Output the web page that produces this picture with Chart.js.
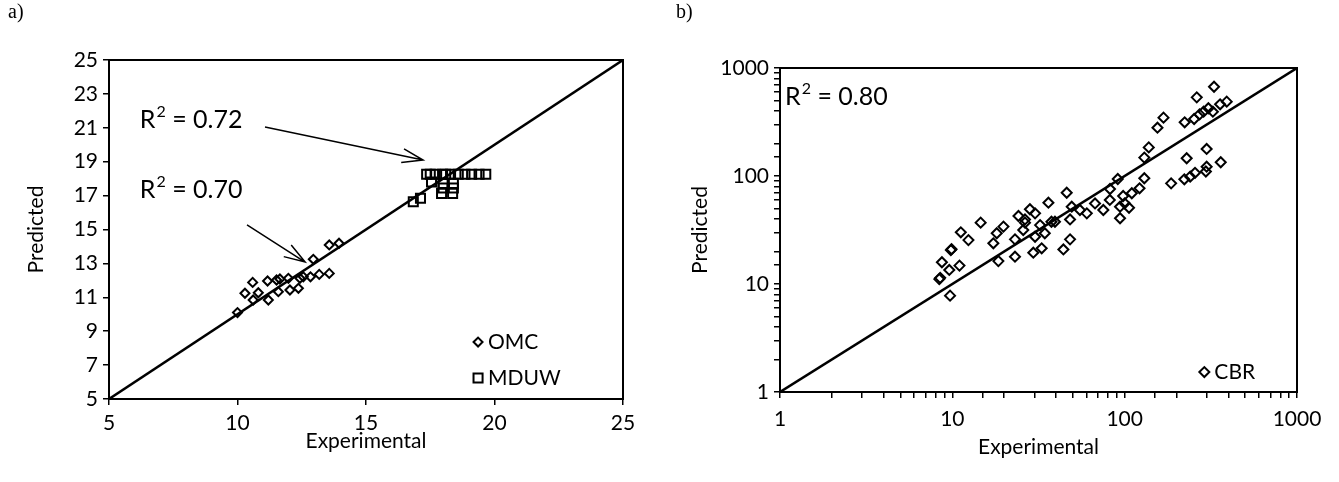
<!DOCTYPE html>
<html>
<head>
<meta charset="utf-8">
<script src="https://cdn.jsdelivr.net/npm/chart.js@4.4.1/dist/chart.umd.min.js"></script>
<style>
  html, body { margin: 0; padding: 0; background: #fff; }
  #wrap { position: relative; width: 1339px; height: 482px; }
  .panel { position: absolute; top: 0; height: 482px; }
  .tag { position: absolute; top: 0px; font: 20px "Liberation Serif", serif; color: #000; }
</style>
</head>
<body>
<div id="wrap">
  <div class="panel" style="left:0;width:669px"><canvas id="chartA" width="669" height="482"></canvas></div>
  <div class="panel" style="left:669px;width:670px"><canvas id="chartB" width="670" height="482"></canvas></div>
  <div class="tag" style="left:8px">a)</div>
  <div class="tag" style="left:676px">b)</div>
</div>
<script>
// panel a) - OMC and MDUW
const omcExp  = [10.0, 10.29, 10.61, 10.59, 10.81, 11.17, 11.2, 11.52, 11.59, 11.65, 11.98, 12.04, 12.37, 12.43, 12.56, 12.84, 12.95, 13.18, 13.57, 13.57, 13.95];
const omcPred = [10.1, 11.24, 10.84, 11.88, 11.27, 11.96, 10.84, 12.02, 11.33, 12.08, 12.12, 11.43, 11.53, 12.12, 12.21, 12.21, 13.24, 12.35, 12.41, 14.09, 14.19];

const mduwExp  = [17.36, 17.5, 17.69, 17.98, 18.1, 18.29, 18.59, 18.85, 19.11, 19.4, 19.66, 17.55, 18.0, 18.4, 18.0, 18.4, 17.94, 18.37, 16.84, 17.12];
const mduwPred = [18.26, 18.26, 18.26, 18.26, 18.26, 18.26, 18.26, 18.26, 18.26, 18.26, 18.26, 17.8, 17.72, 17.72, 17.45, 17.45, 17.13, 17.13, 16.64, 16.84];

const lineA = [5, 25];

// panel b) - CBR
const cbrExp  = [14.6, 11.2, 12.4, 9.8, 9.9, 8.7, 9.6, 11.0, 8.4, 8.5, 9.7, 17.3, 18.1, 19.8, 18.5,
                 24.2, 26.4, 26.4, 28.2, 30.2, 25.8, 23.1, 23.1, 30.2, 34.4, 32.3, 37.6, 39.4, 36.1, 46.1,
                 49.3, 55, 60.3, 67.3, 48.2, 48.2, 44.1, 33.0, 29.5,
                 330, 262, 391, 358, 325, 306, 287, 272, 253, 223, 168, 155, 138, 130, 299, 229, 361, 299,
                 296, 256, 240, 222, 186, 130, 122, 110, 98, 91.2, 82.2, 100, 94, 106, 94, 82, 75.2];
const cbrPred = [37.0, 30.1, 25.5, 20.6, 21.0, 15.9, 13.5, 14.8, 11.1, 11.4, 7.8, 23.8, 29.5, 34.0, 16.3,
                 42.6, 39.6, 37.0, 49.2, 45.1, 31.6, 25.9, 17.9, 27.4, 29.5, 35.1, 37.7, 37.7, 56.6, 70,
                 52, 48.4, 45.1, 55.7, 39.6, 25.9, 20.9, 21.4, 19.5,
                 671, 535, 488, 461, 394, 424, 394, 372, 337, 314, 347, 280, 184, 148, 178, 146, 134, 122,
                 110, 107, 98.6, 93.2, 85.5, 95.3, 76.9, 69.2, 65.3, 93.8, 75.8, 55.8, 52, 50.8, 40.6, 60, 48.4];

const lineB = [1, 1000];

const pairs = (xs, ys) => xs.map((x, i) => ({ x: x, y: ys[i] }));

Chart.defaults.font.family = 'Lato, "Open Sans", sans-serif';
Chart.defaults.font.size = 21;
Chart.defaults.color = '#000';

function rSquared(ctx, text, x, y) {
  ctx.fillStyle = '#000';
  ctx.textBaseline = 'middle';
  ctx.textAlign = 'left';
  ctx.font = '25px Lato';
  ctx.fillText('R', x, y);
  const w = ctx.measureText('R').width;
  ctx.font = '16px Lato';
  ctx.fillText('2', x + w + 1, y - 8);
  const w2 = ctx.measureText('2').width;
  ctx.font = '25px Lato';
  ctx.fillText(' = ' + text, x + w + w2 + 1, y);
}

function arrow(ctx, x1, y1, x2, y2) {
  const ang = Math.atan2(y2 - y1, x2 - x1);
  const len = 22, spread = 0.32;
  ctx.strokeStyle = '#000';
  ctx.lineWidth = 1.5;
  ctx.beginPath();
  ctx.moveTo(x1, y1);
  ctx.lineTo(x2, y2);
  ctx.moveTo(x2 - len * Math.cos(ang - spread), y2 - len * Math.sin(ang - spread));
  ctx.lineTo(x2, y2);
  ctx.lineTo(x2 - len * Math.cos(ang + spread), y2 - len * Math.sin(ang + spread));
  ctx.stroke();
}

function legendItem(ctx, style, radius, label, x, y) {
  ctx.strokeStyle = '#000';
  ctx.fillStyle = 'rgba(0,0,0,0)';
  ctx.lineWidth = 2;
  Chart.helpers.drawPoint(ctx, { pointStyle: style, radius: radius, borderWidth: 2 }, x, y);
  ctx.fillStyle = '#000';
  ctx.font = '21px Lato';
  ctx.textBaseline = 'middle';
  ctx.textAlign = 'left';
  ctx.fillText(label, x + 10, y);
}

const frame = {
  id: 'frame',
  afterDatasetsDraw(chart) {
    const { ctx, chartArea: a } = chart;
    ctx.save();
    ctx.strokeStyle = '#000';
    ctx.lineWidth = 2;
    ctx.strokeRect(a.left, a.top, a.right - a.left, a.bottom - a.top);
    ctx.restore();
  }
};

const notesA = {
  id: 'notesA',
  afterDraw(chart) {
    const { ctx, scales: { x, y } } = chart;
    ctx.save();
    rSquared(ctx, '0.72', x.getPixelForValue(6.2), y.getPixelForValue(21.46));
    arrow(ctx, x.getPixelForValue(11.07), y.getPixelForValue(21.05), x.getPixelForValue(17.22), y.getPixelForValue(19.1));
    rSquared(ctx, '0.70', x.getPixelForValue(6.2), y.getPixelForValue(17.33));
    arrow(ctx, x.getPixelForValue(10.37), y.getPixelForValue(15.27), x.getPixelForValue(12.63), y.getPixelForValue(13.08));
    legendItem(ctx, 'rectRot', 4.5, 'OMC', x.getPixelForValue(19.36), y.getPixelForValue(8.36));
    legendItem(ctx, 'rect', 6.4, 'MDUW', x.getPixelForValue(19.36), y.getPixelForValue(6.24));
    ctx.restore();
  }
};

const notesB = {
  id: 'notesB',
  afterDraw(chart) {
    const { ctx, scales: { x, y } } = chart;
    ctx.save();
    rSquared(ctx, '0.80', x.getPixelForValue(1.07), y.getPixelForValue(540));
    legendItem(ctx, 'rectRot', 5, 'CBR', x.getPixelForValue(290), y.getPixelForValue(1.53));
    ctx.restore();
  }
};

function axisCommon(titleText, titlePad) {
  return {
    border: { display: true, color: '#000', width: 2 },
    grid: { drawOnChartArea: false, drawTicks: true, tickLength: 6, color: '#000', lineWidth: 1.5 },
    title: { display: true, text: titleText, font: { size: 21 }, padding: titlePad }
  };
}

new Chart(document.getElementById('chartA'), {
  type: 'scatter',
  data: {
    datasets: [
      { type: 'line', data: pairs(lineA, lineA), borderColor: '#000', borderWidth: 2.5, pointRadius: 0 },
      { label: 'OMC', data: pairs(omcExp, omcPred), pointStyle: 'rectRot', pointRadius: 4.5,
        borderColor: '#000', backgroundColor: 'rgba(0,0,0,0)', borderWidth: 2 },
      { label: 'MDUW', data: pairs(mduwExp, mduwPred), pointStyle: 'rect', pointRadius: 6.4,
        borderColor: '#000', backgroundColor: 'rgba(0,0,0,0)', borderWidth: 2 }
    ]
  },
  options: {
    responsive: false,
    animation: false,
    events: [],
    layout: { padding: { left: 0, top: 60, right: 46, bottom: 23 } },
    plugins: { legend: { display: false }, tooltip: { enabled: false } },
    scales: {
      x: Object.assign(axisCommon('Experimental', { top: 3, bottom: 5 }), {
        type: 'linear', min: 5, max: 25,
        ticks: { stepSize: 5, padding: 6, maxRotation: 0 },
        afterFit(s) { s.height = 60; }
      }),
      y: Object.assign(axisCommon('Predicted', { top: 24, bottom: 0 }), {
        type: 'linear', min: 5, max: 25,
        ticks: { stepSize: 2, padding: 5 },
        afterFit(s) { s.width = 109; }
      })
    }
  },
  plugins: [frame, notesA]
});

const decadeLabel = (v) => {
  const l = Math.log10(v);
  return Math.abs(l - Math.round(l)) < 1e-9 ? String(Math.round(v)) : '';
};

new Chart(document.getElementById('chartB'), {
  type: 'scatter',
  data: {
    datasets: [
      { type: 'line', data: pairs(lineB, lineB), borderColor: '#000', borderWidth: 2.5, pointRadius: 0 },
      { label: 'CBR', data: pairs(cbrExp, cbrPred), pointStyle: 'rectRot', pointRadius: 5,
        borderColor: '#000', backgroundColor: 'rgba(0,0,0,0)', borderWidth: 2 }
    ]
  },
  options: {
    responsive: false,
    animation: false,
    events: [],
    layout: { padding: { left: 0, top: 68, right: 42, bottom: 22 } },
    plugins: { legend: { display: false }, tooltip: { enabled: false } },
    scales: {
      x: Object.assign(axisCommon('Experimental', { top: 8, bottom: 0 }), {
        type: 'logarithmic', min: 1, max: 1000,
        ticks: { callback: decadeLabel, autoSkip: false, padding: 9, maxRotation: 0 },
        afterFit(s) { s.height = 68; }
      }),
      y: Object.assign(axisCommon('Predicted', { top: 19, bottom: 0 }), {
        type: 'logarithmic', min: 1, max: 1000,
        ticks: { callback: decadeLabel, autoSkip: false, padding: 5 },
        afterFit(s) { s.width = 111; }
      })
    }
  },
  plugins: [frame, notesB]
});
</script>
</body>
</html>
